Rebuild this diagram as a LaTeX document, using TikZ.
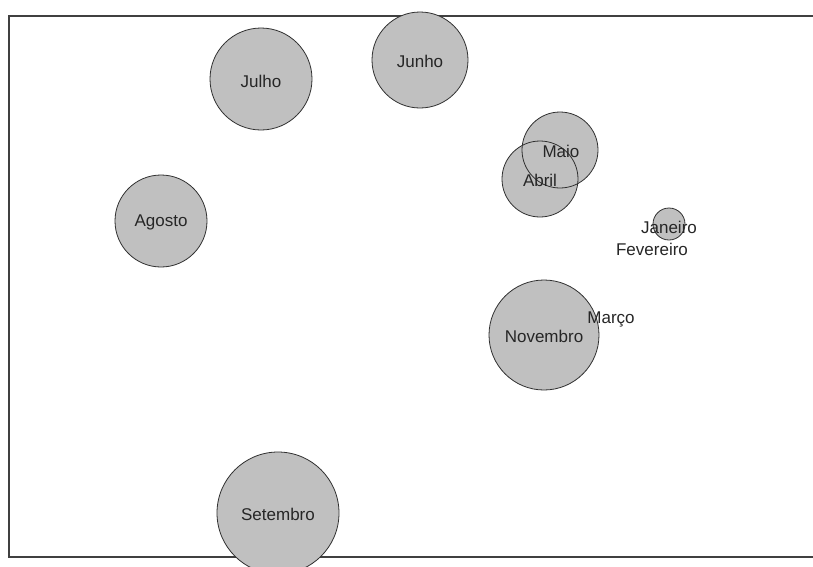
\documentclass[tikz,border=0pt]{standalone}
\usepackage{fontspec}
\setmainfont{Liberation Sans}
\definecolor{bubblegray}{HTML}{C0C0C0}
\definecolor{framegray}{HTML}{404040}
\definecolor{edgegray}{HTML}{303030}
\tikzset{
  frameline/.style={draw=framegray, line width=1.5pt},
  bubblefill/.style={fill=bubblegray},
  bubbleedge/.style={draw=edgegray, line width=0.8pt},
  lbl/.style={inner sep=0pt, font=\fontsize{17}{19}\selectfont, text=black!85}
}
\begin{document}
\begin{tikzpicture}[x=1pt,y=-1pt]
\useasboundingbox (0,0) rectangle (813,566);
\clip (0,0) rectangle (813,566);
\fill[white] (0,0) rectangle (813,566);
% frame
\draw[frameline] (814,16) -- (9,16) -- (9,557) -- (814,557);
% circle fills
\foreach \cx/\cy/\r in {261/79/51, 420/60/48, 560/150/38, 540/179/38, 161/221/46, 669/224/16, 544/335/55, 278/513/61}
  \fill[bubblefill] (\cx,\cy) circle (\r);
% circle outlines
\foreach \cx/\cy/\r in {261/79/51, 420/60/48, 560/150/38, 540/179/38, 161/221/46, 669/224/16, 544/335/55, 278/513/61}
  \draw[bubbleedge] (\cx,\cy) circle (\r);
% labels
\node[lbl] (julho) at (261,81) {Julho};
\node[lbl] (junho) at (420,61) {Junho};
\node[lbl] (maio) at (561,151) {Maio};
\node[lbl] (abril) at (540,180) {Abril};
\node[lbl] (agosto) at (161,222) {Agosto};
\node[lbl] (janeiro) at (669,227) {Janeiro};
\node[lbl] (fevereiro) at (652,249) {Fevereiro};
\node[lbl] (marco) at (611,319) {Março};
\node[lbl] (novembro) at (544,336) {Novembro};
\node[lbl] (setembro) at (278,514) {Setembro};
\end{tikzpicture}
\end{document}
